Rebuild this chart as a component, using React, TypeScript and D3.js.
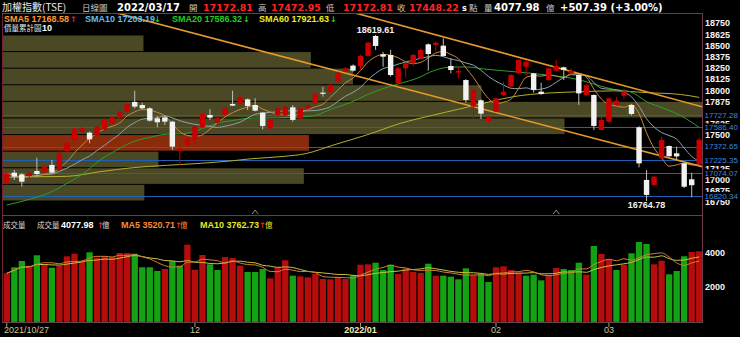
import React from 'react';
import * as d3 from 'd3';

// ---------- DATA ----------
const opens = [16970,17081,17062,17044,17100,17092,17167,17111,17323,17446,17539,17528,17502,17565,17632,17688,17763,17871,17837,17800,17688,17699,17651,17327,17390,17446,17588,17725,17640,17725,17848,17856,17900,17837,17751,17576,17726,17726,17811,17688,17800,17856,17975,17986,18098,18209,18277,18270,18385,18608,18403,18396,18079,18247,18303,18359,18515,18508,18500,18273,18200,18116,17819,17890,17660,17763,17949,18042,18191,18265,18191,17986,18116,18221,18258,18191,18172,17949,17949,17558,17651,17840,17940,17837,17588,17000,16943,17241,17379,17297,17185,17007,17172.81];
const highs = [17090,17111,17075,17095,17249,17160,17223,17320,17430,17580,17590,17540,17620,17685,17710,17775,17860,17997,17863,17810,17714,17725,17660,17372,17480,17610,17750,17789,17710,17815,17997,17935,17910,17912,17760,17680,17810,17830,17837,17810,17850,17970,18040,18070,18210,18260,18290,18400,18545,18619.61,18430,18452,18260,18310,18410,18465,18525,18545,18582,18359,18250,18125,18015,17900,17715,17920,18098,18180,18350,18340,18195,18086,18255,18340,18265,18245,18180,18070,17955,17705,17920,17925,18020,17850,17600,17110,17050,17480,17385,17372,17190,17081,17472.95];
const lows = [16950,16999,16925,17030,17036,17080,17073,17100,17297,17430,17520,17409,17490,17550,17620,17675,17750,17800,17789,17651,17588,17614,17334,17167,17370,17372,17575,17670,17625,17710,17825,17845,17781,17765,17565,17560,17715,17715,17651,17680,17780,17850,17930,17975,18090,18200,18210,18240,18380,18452,18265,18154,18075,18147,18270,18350,18221,18433,18380,18191,18135,17864,17688,17680,17640,17755,17940,18030,18180,18170,17975,17950,18105,18210,18116,18180,17837,17940,17558,17550,17640,17830,17910,17720,17141,16764.78,16935,17230,17260,17223,16910,16806,17172.81];
const closes = [17070,17036,16980,17081,17066,17148,17081,17305,17416,17565,17576,17454,17595,17670,17699,17763,17848,17819,17800,17662,17644,17651,17372,17353,17465,17595,17737,17696,17690,17800,17830,17923,17826,17774,17603,17670,17800,17818,17670,17800,17837,17960,17965,18060,18198,18247,18221,18385,18534,18497,18377,18172,18247,18303,18396,18452,18407,18534,18385,18228,18218,17893,18005,17740,17700,17912,17986,18172,18340,18321,18005,17960,18247,18273,18228,18220,17967,18060,17603,17670,17912,17885,17990,17737,17185,16832,17036,17446,17265,17263,16924,16940.83,17448.22];
const volumes = [2809,3156,3520,3249,3850,3329,3133,3249,3792,3942,3480,4023,3711,3792,3750,3983,3983,3942,3156,3156,2942,3058,3520,3249,4463,3017,3867,3329,3000,3750,3692,3249,2884,2884,3058,2520,3156,3561,2671,2633,2575,2769,2480,2460,2595,2480,2671,3307,3329,3422,3000,3307,2769,3098,2884,2826,3364,2671,2671,2613,2460,3098,2710,2769,2306,3156,3210,3000,2846,2671,2730,2402,2710,3117,3058,3000,3422,2730,4387,3925,3636,3000,3307,3965,4618,4503,3330,3538,2750,2942,3792,4040,4077.98];

// SMA20 / SMA60: [candle index, value]
const sma20Read: [number, number][] = [[0,16720],[3.5,16795],[6,16869],[8,16962],[10.2,17073],[12.4,17222],[14.6,17334],[16.8,17427],[19,17476],[21.2,17510],[23.4,17515],[25.7,17565],[27.9,17632],[30.1,17665],[32.3,17690],[36,17695],[40.3,17710],[43.4,17800],[45.6,17863],[47.8,17949],[50.1,18023],[52.3,18079],[54.5,18135],[56.7,18220],[58.9,18260],[61.1,18262],[63.3,18240],[67.3,18210],[71.8,18172],[76.2,18116],[78.4,18060],[80.6,18012],[82.8,17986],[85.1,17870],[87.3,17800],[89.5,17720],[92,17586.32]];
const sma60Read: [number, number][] = [[0,17029],[3.5,17035],[8,17040],[12.4,17092],[16.8,17137],[21.2,17163],[25.7,17185],[30.1,17215],[32.3,17235],[36.7,17262],[39.8,17295],[43.4,17390],[47.8,17502],[52.3,17632],[56.7,17725],[61.1,17811],[64,17870],[67.3,17930],[71.8,17970],[76.2,17985],[80.6,17995],[85.1,17975],[89.5,17955],[92,17921.63]];

// trend lines: two anchor points each [candle index, price]
const upperTrend: [number, number][] = [[62.87, 18488], [92.36, 17818]];
const lowerTrend: [number, number][] = [[32.31, 18474], [92.36, 17148]];

// support / resistance levels
const levels = [17727.28, 17586.40, 17372.65, 17225.35, 17074.07, 16820.34];

// volume profile (10 bins, bottom to top), cumulative volume (億)
const profileVolumes = [12320, 26220, 13550, 26660, 48940, 60920, 41690, 30500, 26830, 12240];

const priceTicks = d3.range(16750, 18751, 125);
const volTicks = [2000, 4000];
const xTickIndex = [0, 25, 47, 65, 80];
const xTickLabels = ['2021/10/27', '12', '2022/01', '02', '03'];
const markerIndex = [33, 73];

const legendSMA = [
  { label: 'SMA5 17168.58', arrow: '↑', up: true, color: '#ff9a33' },
  { label: 'SMA10 17203.19', arrow: '↓', up: false, color: '#62bdf0' },
  { label: 'SMA20 17586.32', arrow: '↓', up: false, color: '#22cc22' },
  { label: 'SMA60 17921.63', arrow: '↓', up: false, color: '#eeee22' },
];

const NUMF = "'Liberation Sans', Arial, sans-serif";
const VERD = "'DejaVu Sans', Verdana, sans-serif";
const CJK = "'Noto Sans CJK TC', 'Noto Sans CJK SC', sans-serif";

export default function App() {
  const n = closes.length;
  const L = 3, R = 702;
  const PT = 13, PB = 215, VB = 322;

  const x = d3.scaleBand<number>().domain(d3.range(n)).range([L, L + 700]).padding(0);
  const step = x.step();
  const cx = (i: number) => (x(i) as number) + step / 2;
  const xi = d3.scaleLinear().domain([0, n - 1]).range([cx(0), cx(n - 1)]);
  const y = d3.scaleLinear().domain([16608, 18865]).range([PB, PT]);
  const yv = d3.scaleLinear().domain([0, 6121]).range([321.9, 216]);

  const sma = (arr: number[], k: number) =>
    arr.map((_, i) => d3.mean(arr.slice(Math.max(0, i - k + 1), i + 1)) as number);
  const sma5 = sma(closes, 5);
  const sma10 = sma(closes, 10);
  const vma5 = sma(volumes, 5);
  const vma10 = sma(volumes, 10);

  const lineP = d3.line<[number, number]>().x(d => xi(d[0])).y(d => y(d[1])).curve(d3.curveMonotoneX);
  const lineV = d3.line<[number, number]>().x(d => xi(d[0])).y(d => yv(d[1])).curve(d3.curveMonotoneX);

  const trendPath = (pts: [number, number][]) => {
    const [a, b] = pts;
    const slope = (b[1] - a[1]) / (b[0] - a[0]);
    const i0 = -2, i1 = n + 1;
    return d3.line<[number, number]>().x(d => xi(d[0])).y(d => y(d[1]))([
      [i0, a[1] + slope * (i0 - a[0])],
      [i1, a[1] + slope * (i1 - a[0])],
    ]) as string;
  };

  // volume profile
  const pLow = d3.min(lows) as number;
  const pHigh = d3.max(highs) as number;
  const binH = (pHigh - pLow) / profileVolumes.length;
  const pw = d3.scaleLinear().domain([0, d3.max(profileVolumes) as number]).range([0, R - L]);
  const lastClose = closes[n - 1];
  const curBin = Math.floor((lastClose - pLow) / binH);

  const iHigh = highs.indexOf(pHigh);
  const iLow = lows.indexOf(pLow);

  // white tick labels fully hidden behind a level label are not shown
  const shownTicks = priceTicks.filter(t => !levels.some(lv => Math.abs(y(lv) - y(t)) < 2.5));

  const redC = '#c80000';
  const bodyW = 5.4;
  const volW = step * 0.84;

  return (
    <svg width={740} height={337} style={{ position: 'absolute', left: 0, top: 0, background: '#000', display: 'block' }}
      xmlns="http://www.w3.org/2000/svg">
      <rect x={0} y={0} width={740} height={337} fill="#000" />
      <defs>
        <clipPath id="pclip"><rect x={L} y={PT} width={R - L} height={PB - PT} /></clipPath>
        <clipPath id="vclip"><rect x={L} y={PB} width={R - L} height={VB - PB} /></clipPath>
      </defs>

      {/* volume profile */}
      <g clipPath="url(#pclip)">
        {profileVolumes.map((v, k) => {
          const top = y(pLow + (k + 1) * binH);
          const bot = y(pLow + k * binH);
          return (
            <rect key={k} x={L} y={top + 0.5} width={pw(v)} height={bot - top - 1}
              fill={k === curBin ? '#8a2c0c' : '#4b4925'} />
          );
        })}
        {/* levels */}
        {levels.map((lv, k) => (
          <line key={k} x1={L} x2={R} y1={Math.round(y(lv)) + 0.5} y2={Math.round(y(lv)) + 0.5} stroke="#2160b4" strokeWidth={1} />
        ))}
        {/* moving averages */}
        <path d={lineP(sma60Read) as string} fill="none" stroke="#b4b02c" strokeWidth={1} />
        <path d={lineP(sma20Read) as string} fill="none" stroke="#2e9e2e" strokeWidth={1} />
        <path d={lineP(sma10.map((v, i) => [i, v] as [number, number])) as string} fill="none" stroke="#8ea2ae" strokeWidth={1} />
        <path d={lineP(sma5.map((v, i) => [i, v] as [number, number])) as string} fill="none" stroke="#c98a3e" strokeWidth={1} />
        {/* trend lines */}
        <path d={trendPath(upperTrend)} stroke="#e59a2c" strokeWidth={1.6} fill="none" />
        <path d={trendPath(lowerTrend)} stroke="#e59a2c" strokeWidth={1.6} fill="none" />
        {/* candles */}
        {closes.map((c, i) => {
          const o = opens[i];
          const up = c >= o;
          const col = up ? redC : '#f2f2f2';
          const yt = y(Math.max(o, c));
          const yb = y(Math.min(o, c));
          return (
            <g key={i}>
              <line x1={cx(i)} x2={cx(i)} y1={y(highs[i])} y2={y(lows[i])} stroke={up ? redC : '#bdbdbd'} strokeWidth={1} />
              <rect x={cx(i) - bodyW / 2} y={yt} width={bodyW} height={Math.max(1.2, yb - yt)} fill={col} />
            </g>
          );
        })}
      </g>

      {/* high / low labels */}
      <text x={cx(iHigh)} y={y(pHigh) - 1.5} fill="#f0f0f0" fontFamily={NUMF} fontWeight="bold" fontSize={9} textAnchor="middle">{pHigh.toFixed(2)}</text>
      <text x={cx(iLow)} y={y(pLow) + 7.5} fill="#f0f0f0" fontFamily={NUMF} fontWeight="bold" fontSize={9} textAnchor="middle">{pLow.toFixed(2)}</text>

      {/* event markers */}
      {markerIndex.map((i, k) => (
        <path key={k} d={`M${cx(i) - 3},${PB - 1} L${cx(i)},${PB - 5} L${cx(i) + 3},${PB - 1}`} fill="none" stroke="#8a8a8a" strokeWidth={1} />
      ))}

      {/* volume bars */}
      <g clipPath="url(#vclip)">
        {volumes.map((v, i) => {
          const up = i === 0 ? closes[0] >= opens[0] : closes[i] >= closes[i - 1];
          return <rect key={i} x={cx(i) - volW / 2} y={yv(v)} width={volW} height={yv(0) - yv(v)} fill={up ? '#b70c0c' : '#14a214'} />;
        })}
        <path d={lineV(vma10.map((v, i) => [i, v] as [number, number])) as string} fill="none" stroke="#c9c23a" strokeWidth={1} />
        <path d={lineV(vma5.map((v, i) => [i, v] as [number, number])) as string} fill="none" stroke="#d0803a" strokeWidth={1} />
      </g>

      {/* frames */}
      <line x1={2.5} x2={2.5} y1={PT} y2={VB} stroke="#6e2637" strokeWidth={1} />
      <line x1={R + 0.5} x2={R + 0.5} y1={PT} y2={VB} stroke="#6e3a4c" strokeWidth={1} />
      <line x1={2} x2={R + 1} y1={PT + 0.5} y2={PT + 0.5} stroke="#6e3a4c" strokeWidth={1} />
      <line x1={2} x2={R + 1} y1={PB + 0.5} y2={PB + 0.5} stroke="#5e4050" strokeWidth={1} />
      <line x1={2} x2={R + 1} y1={VB + 0.5} y2={VB + 0.5} stroke="#5e4a50" strokeWidth={1} />

      {/* price axis */}
      {shownTicks.map((t, k) => (
        <text key={k} x={705} y={y(t)} dy="0.35em" fill="#f4f4f4" fontFamily={NUMF} fontWeight="bold" fontSize={9}>{t}</text>
      ))}
      {levels.map((lv, k) => (
        <g key={k}>
          <rect x={703} y={y(lv) - 4} width={37} height={8} fill="#000" />
          <text x={704.5} y={y(lv)} dy="0.35em" fill="#3f86dc" fontFamily={NUMF} fontSize={8}>{lv.toFixed(2)}</text>
        </g>
      ))}

      {/* volume axis */}
      {volTicks.map((t, k) => (
        <text key={k} x={705} y={yv(t)} dy="0.35em" fill="#f4f4f4" fontFamily={NUMF} fontWeight="bold" fontSize={9}>{t}</text>
      ))}

      {/* x axis */}
      {xTickIndex.map((i, k) => (
        <g key={k}>
          <line x1={cx(i)} x2={cx(i)} y1={VB + 1} y2={VB + 5} stroke="#a89a70" strokeWidth={1} />
          <text x={k === 0 ? L + 1 : cx(i)} y={333} textAnchor={k === 0 ? 'start' : 'middle'}
            fill={k === 2 ? '#f4ecb8' : '#cfc592'} fontFamily={NUMF} fontWeight={k === 2 ? 'bold' : 'normal'} fontSize={9}>
            {xTickLabels[k]}
          </text>
        </g>
      ))}

      {/* header */}
      <g>
        <text x={2} y={10.5} fill="#ececec" fontFamily={CJK} fontSize={10}>加權指數(TSE)</text>
        <text x={82} y={10.5} fill="#c8c8c8" fontFamily={CJK} fontSize={8.5}>日線圖</text>
        <text x={117} y={10.5} fill="#ffffff" fontFamily={VERD} fontWeight="bold" fontSize={10}>2022/03/17</text>
        <text x={189} y={10.5} fill="#c8c8c8" fontFamily={CJK} fontSize={8.5}>開</text>
        <text x={203} y={10.5} fill="#ff2424" fontFamily={VERD} fontWeight="bold" fontSize={9.5}>17172.81</text>
        <text x={258} y={10.5} fill="#c8c8c8" fontFamily={CJK} fontSize={8.5}>高</text>
        <text x={271} y={10.5} fill="#ff2424" fontFamily={VERD} fontWeight="bold" fontSize={9.5}>17472.95</text>
        <text x={326} y={10.5} fill="#c8c8c8" fontFamily={CJK} fontSize={8.5}>低</text>
        <text x={343} y={10.5} fill="#ff2424" fontFamily={VERD} fontWeight="bold" fontSize={9.5}>17172.81</text>
        <text x={397} y={10.5} fill="#c8c8c8" fontFamily={CJK} fontSize={8.5}>收</text>
        <text x={409} y={10.5} fill="#ff2424" fontFamily={VERD} fontWeight="bold" fontSize={9.5}>17448.22</text>
        <text x={462} y={10.5} fill="#ffffff" fontFamily={VERD} fontWeight="bold" fontSize={8}>s</text>
        <text x={469} y={10.5} fill="#c8c8c8" fontFamily={CJK} fontSize={8.5}>點</text>
        <text x={484} y={10.5} fill="#c8c8c8" fontFamily={CJK} fontSize={8.5}>量</text>
        <text x={494} y={10.5} fill="#ffffff" fontFamily={VERD} fontWeight="bold" fontSize={10}>4077.98</text>
        <text x={546} y={10.5} fill="#c8c8c8" fontFamily={CJK} fontSize={8.5}>億</text>
        <text x={560} y={10.5} fill="#ffffff" fontFamily={VERD} fontWeight="bold" fontSize={10}>+507.39 (+3.00%)</text>
      </g>

      {/* SMA legend */}
      {legendSMA.map((d, k) => {
        const xs = [4, 85, 172, 259][k];
        const ax = [70, 154, 243, 330][k];
        return (
          <g key={k}>
            <text x={xs} y={21.5} fill={d.color} fontFamily={NUMF} fontWeight="bold" fontSize={9}>{d.label}</text>
            <text x={ax} y={21.5} fill={d.up ? '#ff2020' : '#22dd22'} fontFamily={VERD} fontWeight="bold" fontSize={8}>{d.arrow}</text>
          </g>
        );
      })}
      <text x={4} y={31} fill="#e8e8e8" fontFamily={CJK} fontSize={7.5}>價量累計圖</text>
      <text x={42} y={31} fill="#ffffff" fontFamily={NUMF} fontWeight="bold" fontSize={9}>10</text>

      {/* volume legend */}
      <g>
        <text x={3} y={228} fill="#d8d8d8" fontFamily={CJK} fontSize={7.5}>成交量</text>
        <text x={37} y={228} fill="#d8d8d8" fontFamily={CJK} fontSize={7.5}>成交量</text>
        <text x={61} y={228} fill="#ffffff" fontFamily={NUMF} fontWeight="bold" fontSize={9}>4077.98</text>
        <text x={97} y={228} fill="#ff2020" fontFamily={VERD} fontWeight="bold" fontSize={8}>↑</text>
        <text x={102} y={228} fill="#d8d8d8" fontFamily={CJK} fontSize={7.5}>億</text>
        <text x={121} y={228} fill="#ff8a33" fontFamily={NUMF} fontWeight="bold" fontSize={9}>MA5 3520.71</text>
        <text x={175} y={228} fill="#ff2020" fontFamily={VERD} fontWeight="bold" fontSize={8}>↑</text>
        <text x={180} y={228} fill="#ff8a33" fontFamily={CJK} fontSize={7.5}>億</text>
        <text x={200} y={228} fill="#e6e62a" fontFamily={NUMF} fontWeight="bold" fontSize={9}>MA10 3762.73</text>
        <text x={259} y={228} fill="#ff2020" fontFamily={VERD} fontWeight="bold" fontSize={8}>↑</text>
        <text x={265} y={228} fill="#e6e62a" fontFamily={CJK} fontSize={7.5}>億</text>
      </g>
    </svg>
  );
}
